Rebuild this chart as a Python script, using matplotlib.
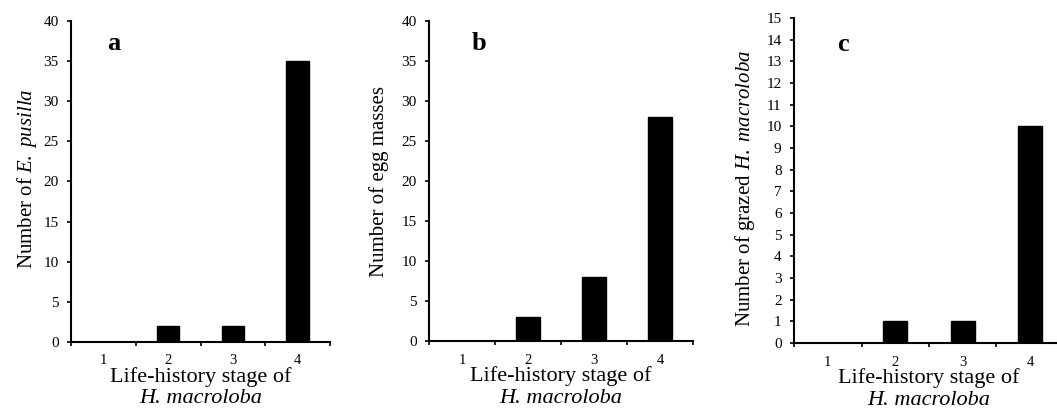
import matplotlib
matplotlib.use("Agg")
import matplotlib.pyplot as plt
from matplotlib.transforms import offset_copy

plt.rcParams['font.family'] = ['Liberation Serif', 'DejaVu Serif']
plt.rcParams['mathtext.fontset'] = 'custom'
plt.rcParams['mathtext.rm'] = 'Liberation Serif'
plt.rcParams['mathtext.it'] = 'Liberation Serif:italic'

stages = ['1', '2', '3', '4']
n_pusilla = [0, 2, 2, 35]
n_egg_masses = [0, 3, 8, 28]
n_grazed = [0, 1, 1, 10]

panels = [
    dict(letter='a', values=n_pusilla, ymax=40, ystep=5,
         ylabel=r'Number of $\mathit{E.}$ $\mathit{pusilla}$', labelpad=3, label_y=0.51,
         rect=[0.0672, 0.1618, 0.2450, 0.7867], letter_xy=(0.139, 0.931)),
    dict(letter='b', values=n_egg_masses, ymax=40, ystep=5,
         ylabel='Number of egg masses', labelpad=9, label_y=0.5,
         rect=[0.4059, 0.1642, 0.2497, 0.7843], letter_xy=(0.163, 0.931)),
    dict(letter='c', values=n_grazed, ymax=15, ystep=1,
         ylabel=r'Number of grazed $\mathit{H.}$ $\mathit{macroloba}$', labelpad=7, label_y=0.475,
         rect=[0.7512, 0.1593, 0.2554, 0.7966], letter_xy=(0.159, 0.917)),
]

fig = plt.figure(figsize=(10.57, 4.08), dpi=100)

for p in panels:
    ax = fig.add_axes(p['rect'])
    x = list(range(len(stages)))
    ax.bar(x, p['values'], width=0.35, color='black', edgecolor='black')
    ax.set_xlim(-0.5, len(stages) - 0.5)
    ax.set_ylim(0, p['ymax'])
    ax.set_yticks(range(0, p['ymax'] + 1, p['ystep']))

    # boundary ticks between categories, labels at the centres
    ax.set_xticks([i + 0.5 for i in range(-1, len(stages))])
    ax.set_xticklabels([])
    ax.set_xticks(x, minor=True)
    ax.set_xticklabels(stages, minor=True)
    ax.tick_params(axis='x', which='minor', length=0, labelsize=10.5, pad=9)
    ax.tick_params(axis='x', which='major', length=3, width=1.2, direction='out')
    ax.tick_params(axis='y', length=3, width=1.2, direction='out', labelsize=11, pad=6)

    for side in ('top', 'right'):
        ax.spines[side].set_visible(False)
    for side in ('left', 'bottom'):
        ax.spines[side].set_linewidth(1.5)

    ax.set_ylabel(p['ylabel'], fontsize=15, labelpad=p['labelpad'])
    ax.yaxis.label.set_y(p['label_y'])

    # two-line x label: plain first line, italic species name below
    below = offset_copy(ax.transAxes, fig=fig, y=-35, units='dots')
    ax.text(0.5, 0, 'Life-history stage of', transform=below,
            ha='center', va='center', fontsize=16)
    below2 = offset_copy(ax.transAxes, fig=fig, y=-57, units='dots')
    ax.text(0.5, 0, 'H. macroloba', transform=below2,
            ha='center', va='center', fontsize=16, style='italic')

    ax.text(p['letter_xy'][0], p['letter_xy'][1], p['letter'],
            transform=ax.transAxes, fontsize=19, fontweight='bold',
            ha='left', va='center')

fig.savefig('out.png', dpi=100)
